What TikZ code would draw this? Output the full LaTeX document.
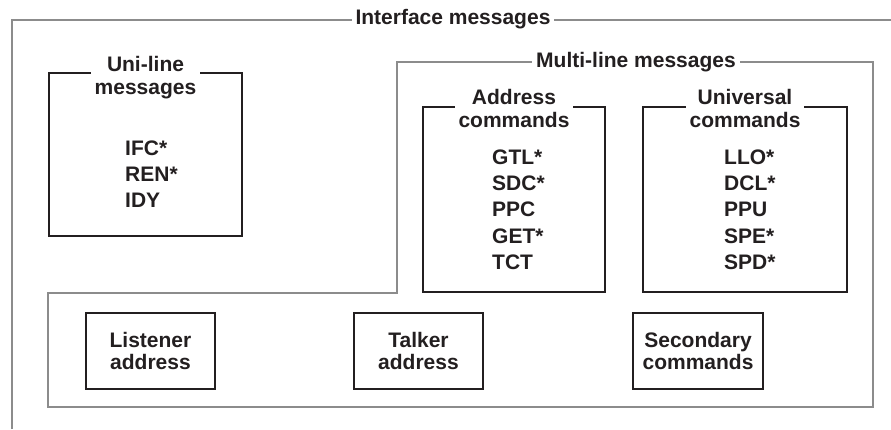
\documentclass[tikz,border=0pt]{standalone}
\usepackage{fontspec}
\setmainfont{Liberation Sans}
\usetikzlibrary{positioning}
\definecolor{framegray}{HTML}{8C8C8C}
\definecolor{inkdark}{HTML}{231F20}
\tikzset{
  grpline/.style ={draw=framegray, line width=1.6pt},
  cmdbox/.style  ={rectangle, draw=inkdark, line width=1.2pt, inner sep=0pt,
                   text=inkdark, align=center,
                   font=\bfseries\fontsize{21}{22}\selectfont},
  ttl/.style     ={fill=white, text=inkdark, align=center, inner xsep=4pt,
                   inner ysep=1pt, font=\bfseries\fontsize{21}{23.5}\selectfont},
  items/.style   ={text=inkdark, align=left, inner sep=0pt, anchor=west,
                   font=\bfseries\fontsize{21}{26.3}\selectfont}
}
\begin{document}
\begin{tikzpicture}[x=1pt,y=-1pt]
\useasboundingbox (0,0) rectangle (891,429);
%% outer group, open to the right and below
\draw[grpline] (12,429) -- (12,20) -- (891,20);
\node[ttl] (iface) at (453,19) {Interface messages};

%% multi-line group, an L round the uni-line box
\draw[grpline] (397,62) -- (873,62) -- (873,407) -- (48,407) -- (48,293)
      -- (397,293) -- cycle;
\node[ttl] (multi) at (636,62) {Multi-line messages};

%% command groups
\node[cmdbox, minimum width=193pt, minimum height=163pt] (uni)  at (145.5,154.5) {};
\node[cmdbox, minimum width=182pt, minimum height=185pt] (addr) at (514,199.5)   {};
\node[cmdbox, minimum width=204pt, minimum height=185pt] (univ) at (745,199.5)   {};
\node[ttl, yshift=-5pt] (uni t)  at (uni.north)  {Uni-line\\messages};
\node[ttl, yshift=-2pt] (addr t) at (addr.north) {Address\\commands};
\node[ttl, yshift=-2pt] (univ t) at (univ.north) {Universal\\commands};

\node[items] (uni i)  at (125,174)   {IFC*\\REN*\\IDY};
\node[items] (addr i) at (492,209.5) {GTL*\\SDC*\\PPC\\GET*\\TCT};
\node[items] (univ i) at (724,209.5) {LLO*\\DCL*\\PPU\\SPE*\\SPD*};

%% bottom row
\node[cmdbox, minimum width=129pt, minimum height=76pt] (listen) at (150.5,351) {Listener\\address};
\node[cmdbox, minimum width=129pt, minimum height=76pt] (talk)   at (418.5,351) {Talker\\address};
\node[cmdbox, minimum width=130pt, minimum height=76pt] (second) at (698,351)   {Secondary\\commands};
\end{tikzpicture}
\end{document}
